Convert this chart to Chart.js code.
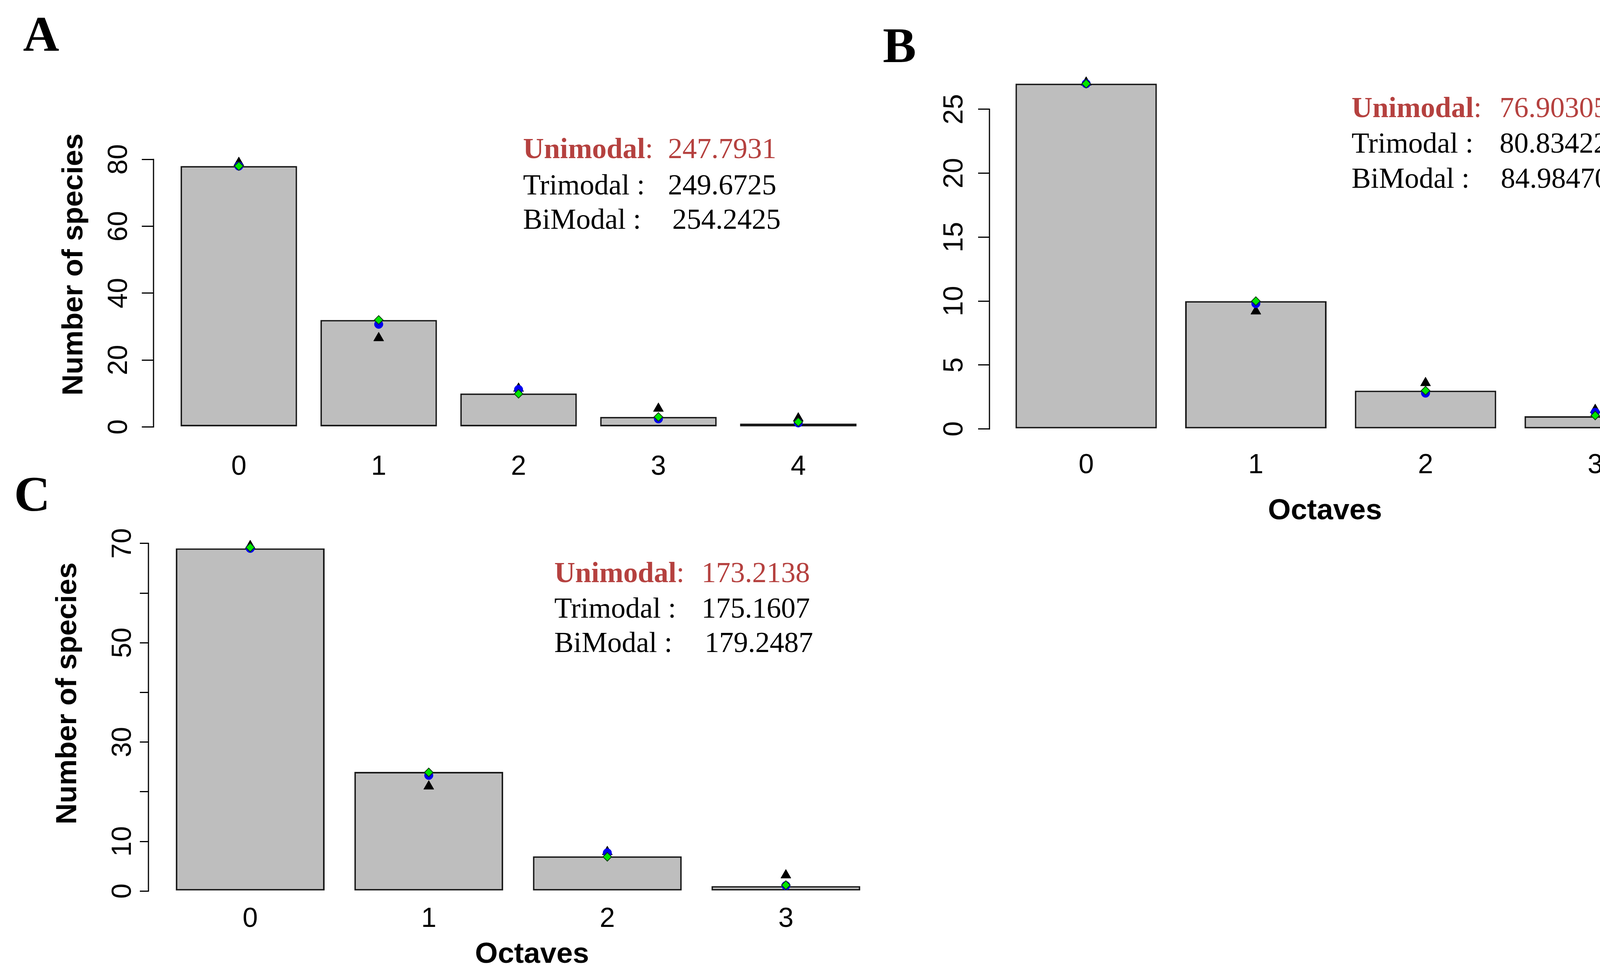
<!DOCTYPE html>
<html>
<head>
<meta charset="utf-8">
<script src="https://cdn.jsdelivr.net/npm/chart.js@4/dist/chart.umd.min.js"></script>
<style>
  body { margin: 0; width: 4312px; height: 2510px; background: #fff; position: relative; overflow: hidden; }
  canvas { position: absolute; }
  .tag { position: absolute; font-family: "Liberation Serif", serif; font-weight: bold; font-size: 128px; line-height: 1; color: #000; }
  .aic { position: absolute; font-family: "Liberation Serif", serif; font-size: 74px; line-height: 1; color: #000; white-space: pre; }
  .best { color: #b5413f; }
</style>
</head>
<body>
<canvas id="chartA" width="2278" height="1029" style="left:0px;top:215px"></canvas>
<canvas id="chartB" width="2011" height="1191" style="left:2300px;top:163px"></canvas>
<canvas id="chartC" width="2360" height="1249" style="left:0px;top:1241px"></canvas>
<div class="tag" style="left:59px;top:23px">A</div>
<div class="tag" style="left:2260px;top:52px">B</div>
<div class="tag" style="left:36px;top:1201px">C</div>
<div id="notes"></div>
<script>
// bar heights and fitted points (black triangle, blue circle, green diamond)
var octavesA = ['0', '1', '2', '3', '4'];
var speciesA = [78, 32, 10, 3, 1];
var blackFitA = [79, 26.6, 11.5, 5.5, 2.6];
var blueFitA = [78, 30.7, 11.2, 2.4, 1.2];
var greenFitA = [78, 32, 9.9, 3.0, 1.5];

var octavesB = ['0', '1', '2', '3'];
var speciesB = [27, 10, 3, 1];
var blackFitB = [27.1, 9.2, 3.6, 1.5];
var blueFitB = [27, 9.8, 2.8, 1.3];
var greenFitB = [27, 10, 3.0, 1.05];

var octavesC = ['0', '1', '2', '3'];
var speciesC = [69, 24, 7, 1];
var blackFitC = [69.5, 21.1, 7.9, 3.2];
var blueFitC = [69, 23.3, 7.7, 1.1];
var greenFitC = [69.2, 23.9, 6.9, 1.2];

var yTicksA = [0, 20, 40, 60, 80];
var yTicksB = [0, 5, 10, 15, 20, 25];
var yTicksC = [0, 10, 20, 30, 40, 50, 60, 70];
var yLabelsC = [0, 10, 30, 50, 70];

var modelNames = ['Unimodal:', 'Trimodal :', 'BiModal :'];
var aicA = ['247.7931', '249.6725', '254.2425'];
var aicB = ['76.90305', '80.83422', '84.98470'];
var aicC = ['173.2138', '175.1607', '179.2487'];

var SPACE = 0.2;  // R barplot spacing
var tickFont = { family: 'Liberation Sans', size: 70 };
var titleFont = { family: 'Liberation Sans', size: 75, weight: 'bold' };

// R style y axis: line only from first to last tick
var axisLine = {
  id: 'axisLine',
  afterDraw: function (chart) {
    var y = chart.scales.y;
    var ctx = chart.ctx;
    var x = chart.chartArea.left;
    ctx.save();
    ctx.strokeStyle = '#000';
    ctx.lineWidth = 3;
    ctx.beginPath();
    ctx.moveTo(x, y.getPixelForValue(y.ticks[0].value) + 1.5);
    ctx.lineTo(x, y.getPixelForValue(y.ticks[y.ticks.length - 1].value) - 1.5);
    ctx.stroke();
    ctx.restore();
  }
};

function renderPanel(id, p) {
  var mids = p.labels.map(function (l, i) { return SPACE + 0.5 + i * (1 + SPACE); });
  var pts = function (vals) { return vals.map(function (v, i) { return { x: mids[i], y: v }; }); };
  new Chart(document.getElementById(id), {
    type: 'bar',
    data: {
      datasets: [
        { type: 'line', data: pts(p.green), showLine: false, pointStyle: 'rectRot', pointRadius: 11,
          pointBackgroundColor: '#00e600', pointBorderColor: '#0a3a0a', pointBorderWidth: 2, order: 1, clip: false },
        { type: 'line', data: pts(p.blue), showLine: false, pointStyle: 'circle', pointRadius: 11,
          pointBackgroundColor: '#0000ee', pointBorderColor: '#0000ee', order: 2, clip: false },
        { type: 'line', data: pts(p.black), showLine: false, pointStyle: 'triangle', pointRadius: 15,
          pointBackgroundColor: '#000', pointBorderColor: '#000', order: 3, clip: false },
        { data: pts(p.species), backgroundColor: '#bebebe', borderColor: '#1a1a1a', borderWidth: 4,
          borderSkipped: false, barPercentage: 1 / (1 + SPACE), categoryPercentage: 1, order: 4, clip: false }
      ]
    },
    options: {
      responsive: false,
      animation: false,
      devicePixelRatio: 1,
      events: [],
      layout: { padding: { right: p.padRight || 0 } },
      plugins: { legend: { display: false }, tooltip: { enabled: false } },
      scales: {
        x: {
          type: 'linear',
          offset: false,
          min: p.xMin,
          max: p.xMax,
          afterBuildTicks: function (s) { s.ticks = mids.map(function (v) { return { value: v }; }); },
          ticks: {
            autoSkip: false, maxRotation: 0, padding: p.xPad, font: tickFont, color: '#000',
            callback: function (v, i) { return p.labels[i]; }
          },
          grid: { display: false, drawTicks: false, offset: false },
          border: { display: false },
          title: { display: p.xTitle, text: 'Octaves', font: titleFont, color: '#000', padding: 0 },
          afterFit: function (s) { s.height = p.xHeight; s.paddingLeft = 0; s.paddingRight = 0; }
        },
        y: {
          min: p.yMin,
          max: p.yMax,
          afterBuildTicks: function (s) { s.ticks = p.yTicks.map(function (v) { return { value: v }; }); },
          ticks: {
            autoSkip: false, minRotation: 90, maxRotation: 90, crossAlign: 'center',
            padding: p.yPad, font: tickFont, color: '#000',
            callback: function (v) { return p.yLabels.indexOf(v) >= 0 ? String(v) : ''; }
          },
          grid: { drawOnChartArea: false, drawTicks: true, tickLength: p.tickLen, color: '#000', lineWidth: 3 },
          border: { display: false },
          title: { display: p.yTitle, text: 'Number of species', font: titleFont, color: '#000',
                   padding: { top: p.yTitlePad, bottom: 0 } },
          afterFit: function (s) { s.width = p.yWidth; s.paddingTop = 0; s.paddingBottom = 0; }
        }
      }
    },
    plugins: [axisLine]
  });
}

renderPanel('chartA', {
  labels: octavesA, species: speciesA, black: blackFitA, blue: blueFitA, green: greenFitA,
  yTicks: yTicksA, yLabels: yTicksA,
  xMin: -0.032, xMax: 6.232, yMin: -3.56, yMax: 100.69,
  yWidth: 393, xHeight: 120, xPad: 31, yPad: 18, tickLen: 30,
  xTitle: false, yTitle: true, yTitlePad: 145
});

renderPanel('chartB', {
  labels: octavesB, species: speciesB, black: blackFitB, blue: blueFitB, green: greenFitB,
  yTicks: yTicksB, yLabels: yTicksB,
  xMin: 0.016, xMax: 4.762, yMin: -1.08, yMax: 28.08,
  yWidth: 233, xHeight: 220, xPad: 17, yPad: 20, tickLen: 29, padRight: 60,
  xTitle: true, yTitle: false, yTitlePad: 0
});

renderPanel('chartC', {
  labels: octavesC, species: speciesC, black: blackFitC, blue: blueFitC, green: greenFitC,
  yTicks: yTicksC, yLabels: yLabelsC,
  xMin: 0.016, xMax: 5.172, yMin: -1.0, yMax: 80.6,
  yWidth: 380, xHeight: 195, xPad: 18, yPad: 3, tickLen: 22,
  xTitle: true, yTitle: true, yTitlePad: 129
});

// AIC notes: label column, number column, line centres
function addNotes(values, labelX, numX, centres) {
  var box = document.getElementById('notes');
  values.forEach(function (v, i) {
    var name = document.createElement('div');
    name.className = 'aic' + (i === 0 ? ' best' : '');
    name.style.left = labelX + 'px';
    name.style.top = (centres[i] - 37.5) + 'px';
    if (i === 0) {
      name.innerHTML = '<b>Unimodal</b>:';
    } else {
      name.textContent = modelNames[i];
    }
    var num = document.createElement('div');
    num.className = 'aic' + (i === 0 ? ' best' : '');
    num.style.left = numX[i] + 'px';
    num.style.top = (centres[i] - 37.5) + 'px';
    num.textContent = v;
    box.appendChild(name);
    box.appendChild(num);
  });
}

addNotes(aicA, 1339, [1710, 1710, 1721], [380, 473, 561]);
addNotes(aicB, 3460, [3839, 3839, 3842], [275, 366, 456]);
addNotes(aicC, 1419, [1796, 1796, 1804], [1466, 1557, 1645]);
</script>
</body>
</html>
